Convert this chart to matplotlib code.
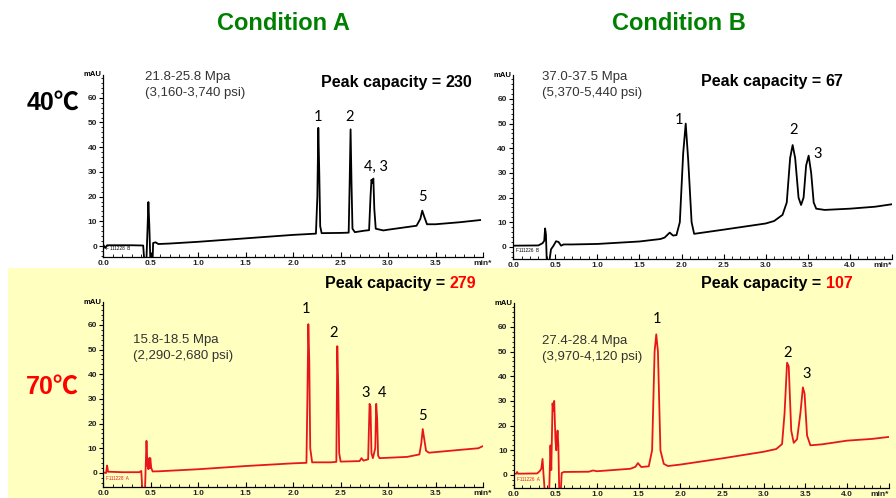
import matplotlib
matplotlib.use("Agg")
import matplotlib.pyplot as plt
from matplotlib.ticker import MultipleLocator, FixedLocator, FixedFormatter

W, H = 896, 498

# Condition A, 40 C (time in min, signal in mAU)
a40_t = [0.00, 0.02, 0.04, 0.30, 0.42, 0.43, 0.455, 0.465, 0.475, 0.485, 0.495, 0.52, 0.525, 0.55, 0.58,
         0.70, 1.00, 1.50, 2.00, 2.24, 2.255, 2.265, 2.275, 2.285, 2.30, 2.50, 2.585, 2.595, 2.605, 2.615,
         2.625, 2.65, 2.75, 2.80, 2.815, 2.825, 2.835, 2.845, 2.855, 2.87, 2.95, 3.00, 3.30, 3.34, 3.36,
         3.38, 3.41, 3.50, 3.75, 3.97]
a40_y = [0.5, -0.8, 0.3, 0.3, 0.2, -5, -5, 6, 17.8, 8, -5, -5, 1.2, 1.5, 0.8,
         1.0, 1.7, 3.1, 4.5, 5.0, 20, 47.8, 30, 8, 5.2, 5.3, 5.4, 25, 47.2, 25,
         7, 5.6, 6.2, 6.4, 20, 26.8, 25.5, 27.3, 15, 7.0, 6.3, 6.6, 8.2, 11, 14.3,
         12, 8.8, 8.8, 9.6, 10.5]

# Condition B, 40 C
b40_t = [0.00, 0.30, 0.35, 0.37, 0.38, 0.39, 0.40, 0.43, 0.45, 0.48, 0.51, 0.54, 0.57, 0.60, 0.70,
         1.00, 1.50, 1.75, 1.80, 1.86, 1.90, 1.94, 1.98, 2.02, 2.05, 2.08, 2.12, 2.15, 2.50, 3.00,
         3.10, 3.20, 3.25, 3.29, 3.32, 3.35, 3.39, 3.42, 3.45, 3.48, 3.51, 3.54, 3.57, 3.60, 3.70,
         4.00, 4.30, 4.50]
b40_y = [0.5, 0.6, 1.5, 2.5, 7.5, 5, -6, -6, -1, 0.5, 2.3, 2.0, 0.5, 1.0, 1.0,
         1.2, 2.2, 3.2, 3.8, 5.8, 4.6, 4.8, 10, 38, 50, 35, 10, 5.3, 7.0, 9.5,
         10.5, 13, 18, 36, 41.3, 36, 20, 17, 20, 33, 37, 30, 18, 15.5, 15,
         15.5, 16.3, 17.3]

# Condition A, 70 C
a70_t = [0.00, 0.03, 0.04, 0.05, 0.20, 0.38, 0.40, 0.41, 0.44, 0.445, 0.455, 0.465, 0.475, 0.485, 0.49,
         0.495, 0.505, 0.52, 0.60, 1.00, 1.50, 2.00, 2.14, 2.15, 2.16, 2.17, 2.18, 2.20, 2.40, 2.455,
         2.465, 2.475, 2.485, 2.50, 2.70, 2.72, 2.74, 2.79, 2.805, 2.815, 2.825, 2.84, 2.865, 2.875, 2.885,
         2.895, 2.91, 3.20, 3.33, 3.35, 3.365, 3.38, 3.40, 3.43, 3.60, 3.80, 3.95, 4.00]
a70_y = [0.2, 0.0, 3.0, 0.5, 0.3, 0.3, 0.8, -6, -6, 0.5, 13, 3, 1.5, 6, 2,
         6, 2, 0.6, 0.7, 1.5, 2.8, 3.9, 4.1, 30, 60.3, 45, 10, 4.3, 4.3, 4.5,
         51.4, 35, 8, 4.6, 4.8, 6.0, 5.0, 5.5, 28, 27, 8, 6, 10, 28, 22,
         7, 6.0, 6.5, 7.5, 12, 17.8, 14, 9, 8.2, 8.8, 9.5, 10.0, 10.9]

# Condition B, 70 C
b70_t = [0.00, 0.03, 0.04, 0.05, 0.28, 0.31, 0.33, 0.345, 0.355, 0.37, 0.425, 0.44, 0.45, 0.465, 0.475,
         0.485, 0.50, 0.51, 0.525, 0.535, 0.545, 0.565, 0.575, 0.60, 0.90, 0.95, 1.00, 1.40, 1.46, 1.49,
         1.53, 1.62, 1.66, 1.69, 1.71, 1.73, 1.76, 1.80, 1.85, 2.00, 2.50, 3.00, 3.15, 3.22, 3.25,
         3.28, 3.30, 3.33, 3.36, 3.40, 3.44, 3.47, 3.49, 3.52, 3.56, 3.70, 4.00, 4.30, 4.50]
b70_y = [0.5, 0.5, 1.2, 0.5, 0.6, 1.5, 2.5, 6.5, 1, -6, -6, 12, 2, 29, 26,
         30, 14, 10, 18, 12, -6, -6, 0.8, 1.2, 1.3, 1.8, 1.5, 2.5, 3.3, 4.8,
         3.2, 3.5, 10, 50, 57, 50, 10, 4.5, 3.6, 4.2, 6.7, 9.4, 10.5, 12.5, 25,
         45.5, 44, 18, 13, 14.5, 25, 35.5, 33, 16, 12, 12.4, 13.9, 14.6, 15.4]

panels = [
    # name, t, y, color, rect (pixels: left, top, right, bottom), xmax, ylim, tag
    ("A40", a40_t, a40_y, "black", (103.3, 75, 483, 257), 4.0, (-4.45, 69.2), "F 111228  B"),
    ("B40", b40_t, b40_y, "black", (513.1, 75, 892, 259), 4.5, (-4.9, 69.7), "F111226  B"),
    ("A70", a70_t, a70_y, "#e8161c", (103.3, 302, 483, 487), 4.0, (-5.7, 69.3), "F111228  A"),
    ("B70", b70_t, b70_y, "#e8161c", (513.8, 303, 888.7, 488), 4.5, (-5.3, 69.7), "F111226  A"),
]

pressures = {
    "A40": ("21.8-25.8 Mpa", "(3,160-3,740 psi)", 145, 77),
    "B40": ("37.0-37.5 Mpa", "(5,370-5,440 psi)", 542, 77),
    "A70": ("15.8-18.5 Mpa", "(2,290-2,680 psi)", 133, 340),
    "B70": ("27.4-28.4 Mpa", "(3,970-4,120 psi)", 542, 341),
}

capacities = {
    "A40": ("230", "black", 321, 87),
    "B40": ("67", "black", 701, 86),
    "A70": ("279", "#ff0000", 325, 288),
    "B70": ("107", "#ff0000", 701, 288),
}

peak_labels = {
    "A40": [("1", 2.26, 52.3), ("2", 2.59, 52.3), ("4, 3", 2.87, 32), ("5", 3.36, 19.9)],
    "B40": [("1", 1.97, 51.5), ("2", 3.33, 47.4), ("3", 3.62, 37.7)],
    "A70": [("1", 2.14, 66.5), ("2", 2.43, 56.7), ("3", 2.76, 32.4), ("4", 2.94, 32.4), ("5", 3.36, 23.1)],
    "B70": [("1", 1.72, 63.2), ("2", 3.29, 49.4), ("3", 3.51, 40.9)],
}

FONT = ["Liberation Sans", "DejaVu Sans"]


def px(x, y):
    return x / W, 1 - y / H


fig = plt.figure(figsize=(W / 100, H / 100), dpi=100)
fig.patch.set_facecolor("white")

# yellow band behind the 70 C row, on its own axes at the back
bg = fig.add_axes([8 / W, 0, (W - 8) / W, (498 - 268) / H], zorder=-10)
bg.axis("off")
bg.add_patch(plt.Rectangle((0, 0), 1, 1, transform=bg.transAxes, facecolor="#ffffc0", edgecolor="none"))

for name, t, y, color, rect, xmax, ylim, tag in panels:
    l, tp, r, b = rect
    ax = fig.add_axes([l / W, 1 - b / H, (r - l) / W, (b - tp) / H])
    ax.set_facecolor("none")
    ax.plot(t, y, color=color, lw=1.3)
    ax.set_xlim(0, xmax)
    ax.set_ylim(*ylim)
    for s in ["top", "right"]:
        ax.spines[s].set_visible(False)
    for s in ["left", "bottom"]:
        ax.spines[s].set_linewidth(0.9)

    xt = [i * 0.5 for i in range(int(xmax / 0.5))] + [xmax]
    xl = ["%.1f" % v for v in xt[:-1]] + ["min*"]
    ax.xaxis.set_major_locator(FixedLocator(xt))
    ax.xaxis.set_major_formatter(FixedFormatter(xl))
    ax.xaxis.set_minor_locator(MultipleLocator(0.1))
    ax.yaxis.set_major_locator(FixedLocator([0, 10, 20, 30, 40, 50, 60]))
    ax.yaxis.set_minor_locator(MultipleLocator(2))
    ax.tick_params(axis="x", which="major", direction="in", length=3.5, width=0.8, pad=2)
    ax.tick_params(axis="x", which="minor", direction="in", length=2, width=0.6)
    ax.tick_params(axis="y", which="major", direction="out", length=3, width=0.8, pad=1.5)
    ax.tick_params(axis="y", which="minor", direction="out", length=1.5, width=0.6)
    for lab in ax.get_xticklabels() + ax.get_yticklabels():
        lab.set_fontsize(6)
        lab.set_fontweight("bold")
        lab.set_family(FONT)
        lab.set_color("#222222")
    if xmax > 4.2:
        ax.get_xticklabels()[-1].set_horizontalalignment("right")
    ax.text(-0.004, 1.0, "mAU", transform=ax.transAxes, ha="right", va="center",
            fontsize=5.5, fontweight="bold", family=FONT)
    ax.text(0.008, 0.035, tag, transform=ax.transAxes, ha="left", va="bottom",
            fontsize=3.3, color=color, family=FONT)

    for lab, lx, ly in peak_labels[name]:
        ax.text(lx, ly, lab, ha="center", va="center", fontsize=10.5, family=["Lato", "DejaVu Sans"])

    p1, p2, tx, ty = pressures[name]
    fig.text(*px(tx, ty), p1, ha="left", va="center", fontsize=9.5, color="#333333", family=FONT)
    fig.text(*px(tx, ty + 16), p2, ha="left", va="center", fontsize=9.5, color="#333333", family=FONT)

# peak capacity lines, number may be in red
renderer = fig.canvas.get_renderer()
for name, (num, ncol, cx, cy) in capacities.items():
    t1 = fig.text(*px(cx, cy), "Peak capacity =", ha="left", va="baseline",
                  fontsize=11.5, fontweight="bold", family=FONT)
    bb = t1.get_window_extent(renderer=renderer)
    fig.text((bb.x1 + 4.5) / W, 1 - cy / H, num, ha="left", va="baseline",
             fontsize=11.5, fontweight="bold", color=ncol, family=FONT)

fig.text(*px(283, 23), "Condition A", ha="center", va="center", fontsize=17,
         fontweight="bold", color="#008000", family=FONT)
fig.text(*px(679, 23), "Condition B", ha="center", va="center", fontsize=17,
         fontweight="bold", color="#008000", family=FONT)
deg_font = ["Liberation Sans", "Noto Sans CJK JP", "DejaVu Sans"]
fig.text(*px(53, 103), "40\u2103", ha="center", va="center", fontsize=18,
         fontweight="bold", color="black", family=deg_font)
fig.text(*px(52, 387), "70\u2103", ha="center", va="center", fontsize=18,
         fontweight="bold", color="#ff0000", family=deg_font)

fig.savefig("out.png", dpi=100)
